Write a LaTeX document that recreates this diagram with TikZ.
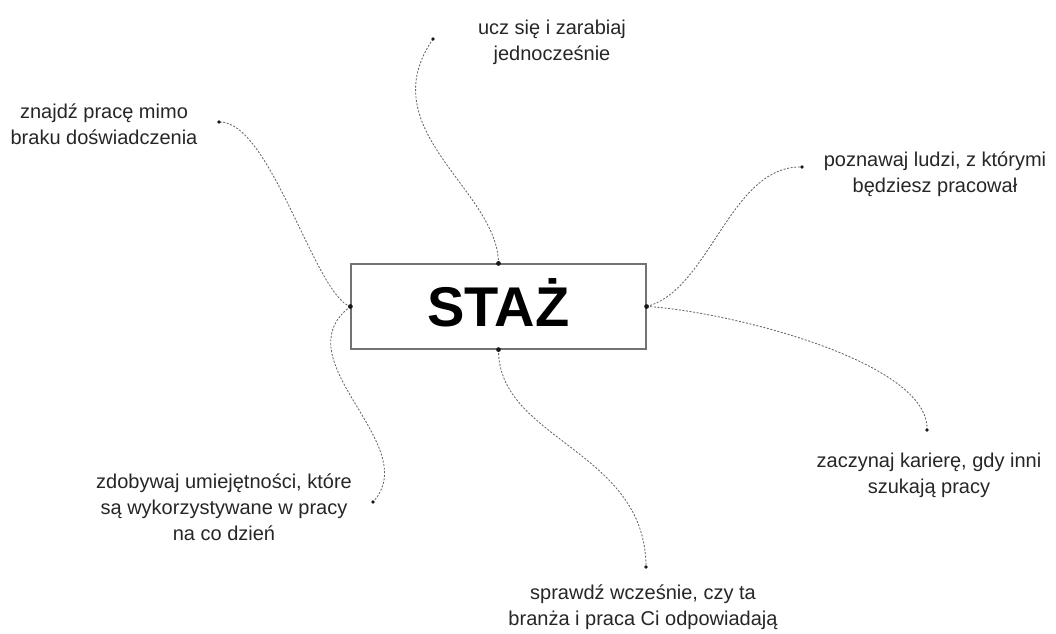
\documentclass[tikz,border=0pt]{standalone}
\usepackage{fontspec}
\setmainfont{Liberation Sans}
\begin{document}
\begin{tikzpicture}[x=1pt,y=-1pt]
\tikzset{
  conn/.style={draw=black!60, line width=0.85pt, dash pattern=on 2pt off 1.6pt},
  lbl/.style={align=center, text=black!85, inner sep=0pt, font=\fontsize{20}{26}\selectfont},
  mainbox/.style={draw=black!55, line width=1.2pt, fill=white, minimum width=295pt, minimum height=85pt,
    inner sep=0pt, text height=40pt, text depth=0pt, font=\fontsize{56}{60}\selectfont\bfseries},
  enddot/.style={fill=black!90}
}
\useasboundingbox (0,0) rectangle (1056,633);

\node[mainbox] (staz) at (498.5,306.5) {STAŻ};

% labels
\node[lbl] (t1) at (104,124) {znajdź pracę mimo\\braku doświadczenia};
\node[lbl] (t2) at (552,42) {ucz się i zarabiaj\\jednocześnie};
\node[lbl] (t3) at (935,174) {poznawaj ludzi, z którymi\\będziesz pracował};
\node[lbl] (t4) at (929,475) {zaczynaj karierę, gdy inni\\szukają pracy};
\node[lbl] (t5) at (643,607) {sprawdź wcześnie, czy ta\\branża i praca Ci odpowiadają};
\node[lbl] (t6) at (224,507) {zdobywaj umiejętności, które\\są wykorzystywane w pracy\\na co dzień};

% free ends
\coordinate (d1) at (219,122);
\coordinate (d2) at (433,39);
\coordinate (d3) at (802,167);
\coordinate (d4) at (927,430);
\coordinate (d5) at (646,567);
\coordinate (d6) at (373,502);

% connectors
\draw[conn] (staz.west) .. controls (315,295) and (270,120) .. (d1);
\draw[conn] (staz.north) .. controls (498,190) and (370,130) .. (d2);
\draw[conn] (staz.east) .. controls (710,290) and (730,165) .. (d3);
\draw[conn] (staz.east) .. controls (720,310) and (930,360) .. (d4);
\draw[conn] (staz.south) .. controls (498,440) and (646,450) .. (d5);
\draw[conn] (staz.west) .. controls (280,360) and (425,445) .. (d6);

% dots
\foreach \p in {d1,d2,d3,d4,d5,d6}{\fill[enddot] (\p) circle (1.8pt);}
\foreach \p in {staz.west,staz.north,staz.east,staz.south}{\fill[enddot] (\p) circle (2.4pt);}
\end{tikzpicture}
\end{document}
